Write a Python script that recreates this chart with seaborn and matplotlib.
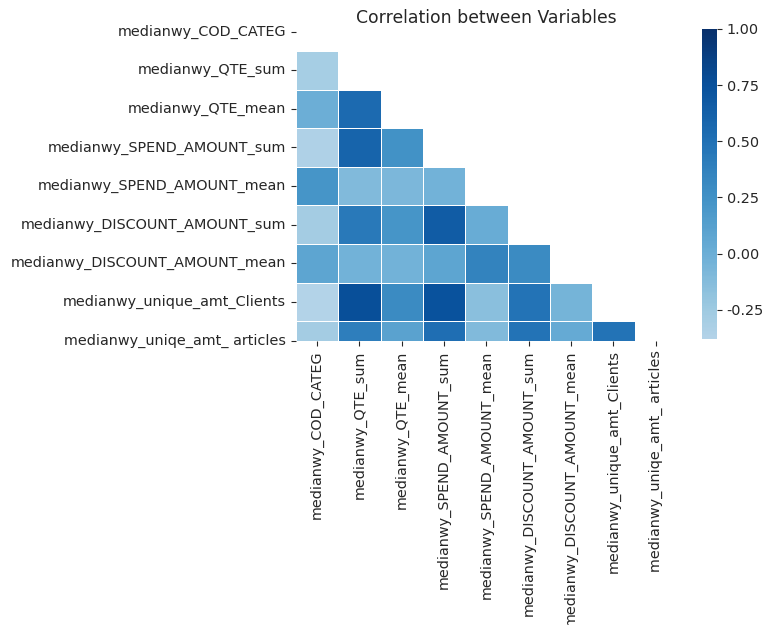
import numpy as np
import pandas as pd
import matplotlib
matplotlib.use("Agg")
import matplotlib.pyplot as plt
from matplotlib.ticker import FormatStrFormatter
import seaborn as sns

variables = [
    "medianwy_COD_CATEG",
    "medianwy_QTE_sum",
    "medianwy_QTE_mean",
    "medianwy_SPEND_AMOUNT_sum",
    "medianwy_SPEND_AMOUNT_mean",
    "medianwy_DISCOUNT_AMOUNT_sum",
    "medianwy_DISCOUNT_AMOUNT_mean",
    "medianwy_unique_amt_Clients",
    "medianwy_uniqe_amt_ articles",
]

# lower-triangle correlations, row i holds correlations with variables 0..i-1
row_qte_sum = [-0.30]
row_qte_mean = [0.00, 0.55]
row_spend_sum = [-0.35, 0.60, 0.25]
row_spend_mean = [0.22, -0.10, -0.08, -0.04]
row_disc_sum = [-0.28, 0.44, 0.22, 0.66, 0.02]
row_disc_mean = [0.08, -0.03, -0.03, 0.08, 0.36, 0.30]
row_clients = [-0.38, 0.76, 0.30, 0.74, -0.15, 0.48, -0.05]
row_articles = [-0.28, 0.40, 0.10, 0.52, -0.10, 0.48, 0.03, 0.48]

cbar_ticks = [-0.25, 0.0, 0.25, 0.5, 0.75, 1.0]

lower_rows = [[], row_qte_sum, row_qte_mean, row_spend_sum, row_spend_mean,
              row_disc_sum, row_disc_mean, row_clients, row_articles]

n = len(variables)
mat = np.eye(n)
for i, r in enumerate(lower_rows):
    for j, v in enumerate(r):
        mat[i, j] = v
        mat[j, i] = v
corr = pd.DataFrame(mat, index=variables, columns=variables)
mask = np.triu(np.ones_like(mat, dtype=bool))

text_color = "#262626"
fig = plt.figure(figsize=(7.7, 6.25), dpi=100)
ax = fig.add_axes([0.3844, 0.4552, 0.4948, 0.4941])
cax = fig.add_axes([0.9117, 0.4576, 0.0195, 0.4960])

sns.heatmap(corr, mask=mask, cmap="Blues", vmax=1, center=0,
            linewidths=0.5, ax=ax, cbar_ax=cax)
ax.set_ylim(8.5, 0.5)
ax.set_title("Correlation between Variables", fontsize=12.4, color=text_color)
ax.set_xticklabels(variables, rotation=90, fontsize=10.4, color=text_color)
ax.set_yticklabels(variables, rotation=0, fontsize=10.4, color=text_color)
ax.tick_params(colors=text_color)
cax.set_yticks(cbar_ticks)
cax.yaxis.set_major_formatter(FormatStrFormatter("%.2f"))
cax.tick_params(labelsize=10.4, colors=text_color)

fig.savefig("out.png", dpi=100)
